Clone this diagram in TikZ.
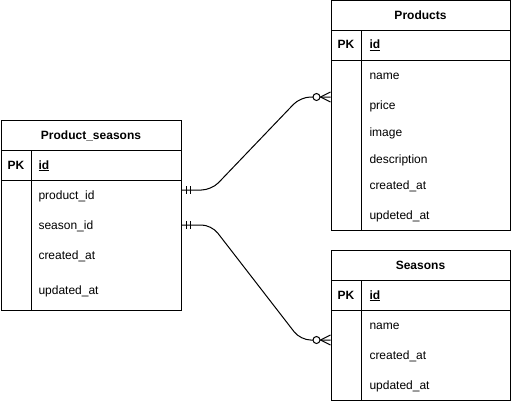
\documentclass[tikz,border=0pt]{standalone}
\usepackage{fontspec}
\setmainfont{Liberation Sans}
\usetikzlibrary{calc}
\begin{document}
\begin{tikzpicture}[x=1pt,y=-1pt,line width=1pt,
  every node/.style={font=\fontsize{12}{14}\selectfont, inner sep=0pt},
  frame/.style={draw, rectangle, minimum width=#1},
  ttl/.style={font=\fontsize{12}{14}\selectfont\bfseries, anchor=base},
  pk/.style={font=\fontsize{12}{14}\selectfont\bfseries, anchor=base},
  fld/.style={anchor=base west},
  rel/.style={draw, rounded corners=10pt},
  tick/.style={draw},
  zcircle/.style={draw, fill=white, circle, minimum size=7pt}]
\useasboundingbox (0,0) rectangle (512,402);

% ---------- Products ----------
\node[frame=179pt, minimum height=230pt] (prod) at (420.5,115) {};
\draw (331,30) -- (510,30);
\draw (331,60) -- (510,60);
\draw (361,30) -- (361,230);
\node[ttl] (prodT) at (420.5,19) {Products};
\node[pk] (prodPK) at (346,48.5) {PK};
\node[pk, anchor=base west] (prodId) at (369,48.5) {\underline{id}};
\node[fld] (prodF1) at (369,79) {name};
\node[fld] (prodF2) at (369,109) {price};
\node[fld] (prodF3) at (369,136) {image};
\node[fld] (prodF4) at (369,163) {description};
\node[fld] (prodF5) at (369,189) {created\_at};
\node[fld] (prodF6) at (369,219) {updeted\_at};

% ---------- Product_seasons ----------
\node[frame=180pt, minimum height=190pt] (ps) at (91,215) {};
\draw (1,150) -- (181,150);
\draw (1,180) -- (181,180);
\draw (31,150) -- (31,310);
\node[ttl] (psT) at (91,139) {Product\_seasons};
\node[pk] (psPK) at (16,169) {PK};
\node[pk, anchor=base west] (psId) at (38,169) {\underline{id}};
\node[fld] (psF1) at (38,199) {product\_id};
\node[fld] (psF2) at (38,229) {season\_id};
\node[fld] (psF3) at (38,259) {created\_at};
\node[fld] (psF4) at (38,294) {updated\_at};

% ---------- Seasons ----------
\node[frame=179pt, minimum height=150pt] (sea) at (420.5,325) {};
\draw (331,280) -- (510,280);
\draw (331,310) -- (510,310);
\draw (361,280) -- (361,400);
\node[ttl] (seaT) at (420.5,269) {Seasons};
\node[pk] (seaPK) at (346,299) {PK};
\node[pk, anchor=base west] (seaId) at (369,299) {\underline{id}};
\node[fld] (seaF1) at (369,329) {name};
\node[fld] (seaF2) at (369,359) {created\_at};
\node[fld] (seaF3) at (369,389) {updated\_at};

% ---------- connector ends ----------
\coordinate (r1s) at (ps.east |- 0,190);
\coordinate (r1t) at (prod.west |- 0,97);
\coordinate (r2s) at (ps.east |- 0,225);
\coordinate (r2t) at (sea.west |- 0,340);

% relation 1
\draw[rel] (r1s) -- ++(30,0) -- ($(r1t)+(-30,0)$) -- (r1t);
\draw[tick] ($(r1s)+(4.5,-4)$) -- ++(0,8);
\draw[tick] ($(r1s)+(8.5,-4)$) -- ++(0,8);
\draw ($(r1t)+(-10,0)$) -- ($(r1t)+(0,-5)$);
\draw ($(r1t)+(-10,0)$) -- ($(r1t)+(0,5)$);
\node[zcircle] (z1) at ($(r1t)+(-14,0)$) {};

% relation 2
\draw[rel] (r2s) -- ++(30,0) -- ($(r2t)+(-30,0)$) -- (r2t);
\draw[tick] ($(r2s)+(4.5,-4)$) -- ++(0,8);
\draw[tick] ($(r2s)+(8.5,-4)$) -- ++(0,8);
\draw ($(r2t)+(-10,0)$) -- ($(r2t)+(0,-5)$);
\draw ($(r2t)+(-10,0)$) -- ($(r2t)+(0,5)$);
\node[zcircle] (z2) at ($(r2t)+(-14,0)$) {};
\end{tikzpicture}
\end{document}
